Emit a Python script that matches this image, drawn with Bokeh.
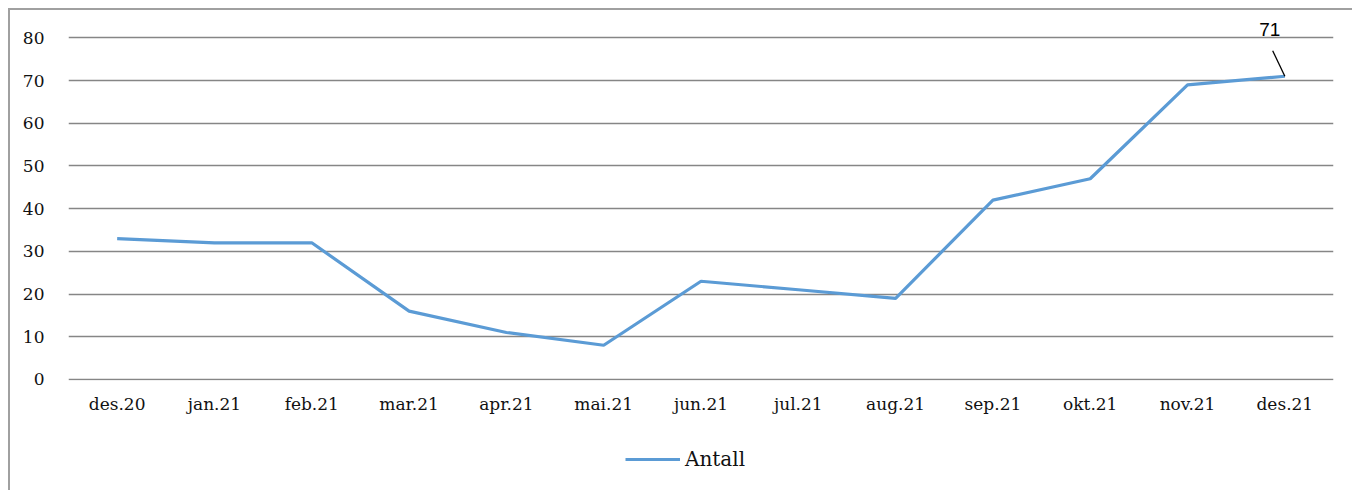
from bokeh.plotting import figure
from bokeh.models import Range1d, FixedTicker, Legend, LegendItem, ColumnDataSource
from bokeh.layouts import column
from bokeh.embed import file_html
from bokeh.resources import INLINE
from bokeh.core.properties import value

months = ["des.20", "jan.21", "feb.21", "mar.21", "apr.21", "mai.21", "jun.21",
          "jul.21", "aug.21", "sep.21", "okt.21", "nov.21", "des.21"]
antall = [33, 32, 32, 16, 11, 8, 23, 21, 19, 42, 47, 69, 71]
y_ticks = [0, 10, 20, 30, 40, 50, 60, 70, 80]
series_name = "Antall"

LINE_COLOR = "#5B9BD5"
LINE_WIDTH = 3.2

idx = list(range(len(months)))

p = figure(width=1342, height=420, output_backend="svg", toolbar_location=None,
           x_range=Range1d(-0.5, len(months) - 0.5), y_range=Range1d(-0.25, 85),
           min_border_left=58, min_border_right=19, min_border_top=6, min_border_bottom=50)
p.outline_line_color = None
p.background_fill_color = "white"
p.border_fill_color = "white"

# axes
p.xaxis.ticker = FixedTicker(ticks=idx)
p.xaxis.major_label_overrides = {i: m for i, m in enumerate(months)}
p.yaxis.ticker = FixedTicker(ticks=y_ticks)
for ax in (p.xaxis, p.yaxis):
    ax.axis_line_color = None
    ax.major_tick_line_color = None
    ax.minor_tick_line_color = None
    ax.major_label_text_font = "DejaVu Serif"
    ax.major_label_text_font_size = "17px"
    ax.major_label_text_color = "#111111"
p.xaxis.major_label_standoff = 7
p.yaxis.major_label_standoff = 18

p.xgrid.visible = False
p.ygrid.ticker = FixedTicker(ticks=y_ticks)
p.ygrid.grid_line_color = "#868686"
p.ygrid.grid_line_width = 1.7

p.line(idx, antall, line_color=LINE_COLOR, line_width=LINE_WIDTH)

# data label for last point with leader line
last_i = idx[-1]
last_v = antall[-1]
p.segment(x0=[last_i - 0.125], y0=[last_v + 6], x1=[last_i], y1=[last_v],
          line_color="black", line_width=1.3)
p.text(x=[last_i], y=[last_v], text=[str(last_v)], x_offset=-15, y_offset=-47,
       text_align="center", text_baseline="middle",
       text_font=value("Liberation Sans"), text_font_size="19px", text_color="black")

# legend strip below the chart (its frame is aligned with the chart frame)
lg = figure(width=1342, height=60, output_backend="svg", toolbar_location=None,
            x_range=Range1d(0, 1), y_range=Range1d(0, 1),
            x_axis_type=None, y_axis_type=None,
            min_border_left=0, min_border_right=0, min_border_top=0, min_border_bottom=0)
lg.outline_line_color = None
lg.xgrid.visible = False
lg.ygrid.visible = False
lg.background_fill_color = "white"
lg.border_fill_color = "white"
# legend carrier: same series style, data kept outside the visible range
lr = lg.line(x="x", y="y", source=ColumnDataSource(data=dict(x=[5, 6], y=[5, 6])),
             line_color=LINE_COLOR, line_width=LINE_WIDTH)
legend = Legend(items=[LegendItem(label=series_name, renderers=[lr])],
                location=(557, 19), orientation="horizontal",
                padding=0, margin=0, glyph_width=55, glyph_height=20,
                label_standoff=5, label_height=20,
                border_line_color=None, background_fill_alpha=0,
                label_text_font="DejaVu Serif", label_text_font_size="20px",
                label_text_color="#111111")
lg.add_layout(legend, "center")

layout = column(p, lg, spacing=0)
layout.styles = {"margin-top": "8px", "margin-left": "8px",
                 "border-top": "2px solid #a0a0a0", "border-left": "2px solid #a0a0a0"}

open("out.html", "w").write(file_html(layout, INLINE))
